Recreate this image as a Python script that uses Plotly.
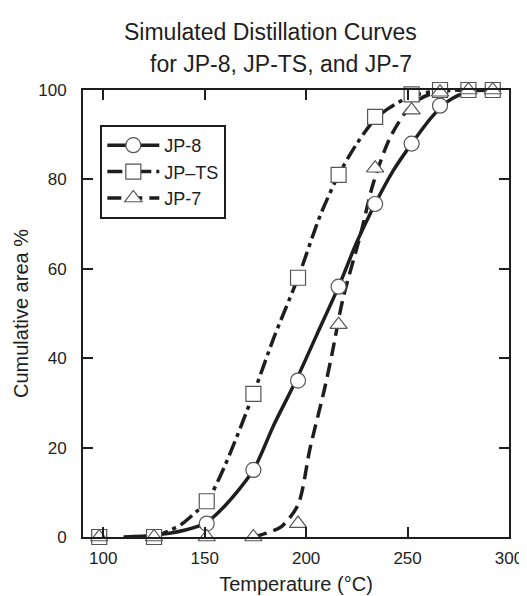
import plotly.graph_objects as go

# ---- measured data points (markers) ----
temps = [98, 125, 151, 174, 196, 216, 234, 252, 266, 280, 292]
jp8 = [0, 0, 3, 15, 35, 56, 74.5, 88, 96.5, 100, 100]
jpts = [0, 0, 8, 32, 58, 81, 94, 99, 100, 100, 100]
jp7 = [0, 0, 0, 0, 3, 47.5, 82.5, 95.5, 99.5, 100, 100]

# ---- fitted curves ----
jp8_curve_t = [110, 125, 140, 150, 160, 174, 184, 195, 205, 216, 225, 234, 243, 252, 262, 270, 280, 292]
jp8_curve_v = [0, 0.4, 1.5, 3, 7, 15, 25, 35, 45, 56, 66, 74.5, 82, 88, 94, 97.5, 99.6, 100]

jpts_curve_t = [125, 133, 139, 146, 151, 160, 174, 184, 196, 207, 216, 225, 234, 241, 251, 262, 275, 292]
jpts_curve_v = [0, 1.5, 3, 5.7, 7.8, 16, 32, 44.5, 58, 72, 81, 88, 93.5, 96, 98.5, 99.6, 100, 100]

jp7_curve_t = [174, 180, 188, 196, 202, 209, 213, 218, 227, 233, 241, 249, 256, 265, 280, 292]
jp7_curve_v = [0, 0.8, 2.4, 7.2, 20, 33, 41.5, 53, 68, 79, 89, 95, 98, 99.6, 100, 100]

names = ["JP-8", "JP\u2013TS", "JP-7"]
x_ticks = [100, 150, 200, 250, 300]
title_line1 = "Simulated Distillation Curves"
title_line2 = "for JP-8, JP-TS, and JP-7"

INK = "#1e1e1e"
FONT = "Liberation Sans, Arial, sans-serif"
LW = 3.5
dashes = ["solid", "15px,5px,4px,5px", "14px,7px"]
symbols = ["circle", "square", "triangle-up"]
marker_style = dict(size=15, color="white", line=dict(color="#555555", width=1.2))

fig = go.Figure()

curves = [(jp8_curve_t, jp8_curve_v), (jpts_curve_t, jpts_curve_v), (jp7_curve_t, jp7_curve_v)]
points = [jp8, jpts, jp7]

# curves
for (ct, cv), d in zip(curves, dashes):
    fig.add_trace(go.Scatter(x=ct, y=cv, mode="lines", showlegend=False,
                             line=dict(color=INK, width=LW, dash=d, shape="spline", smoothing=0.8),
                             hoverinfo="skip"))

# markers on top
for pv, s in zip(points, symbols):
    fig.add_trace(go.Scatter(x=temps, y=pv, mode="markers", showlegend=False,
                             marker=dict(symbol=s, **marker_style), cliponaxis=False))

# legend entries
for n, d, s in zip(names, dashes, symbols):
    fig.add_trace(go.Scatter(x=[None], y=[None], mode="lines+markers", name=n,
                             line=dict(color=INK, width=LW, dash=d),
                             marker=dict(symbol=s, **marker_style)))

plot_l, plot_r, plot_t, plot_b = 75.4, 508, 82, 529
pw, ph = plot_r - plot_l, plot_b - plot_t

def px_to_paper(x, y):
    return (x - plot_l) / pw, (plot_b - y) / ph

ax1, ay1 = px_to_paper(265.5, 24)
ax2, ay2 = px_to_paper(276, 56)

fig.add_annotation(text=title_line1, x=ax1, y=ay1, xref="paper", yref="paper",
                   xanchor="center", yanchor="middle", showarrow=False,
                   font=dict(size=23, color=INK, family=FONT))
fig.add_annotation(text=title_line2, x=ax2, y=ay2, xref="paper", yref="paper",
                   xanchor="center", yanchor="middle", showarrow=False,
                   font=dict(size=23, color=INK, family=FONT))

axis_common = dict(showline=True, linewidth=2, linecolor=INK, mirror="ticks",
                   ticks="inside", ticklen=10, tickwidth=2, tickcolor=INK,
                   showgrid=False, zeroline=False,
                   tickfont=dict(size=17, color=INK, family=FONT))

lx, ly = px_to_paper(93, 117)

fig.update_layout(
    width=527, height=596,
    margin=dict(l=plot_l, r=527 - plot_r, t=plot_t, b=596 - plot_b),
    paper_bgcolor="white", plot_bgcolor="white",
    font=dict(family=FONT, color=INK),
    xaxis=dict(range=[90, 300], tickvals=x_ticks, ticklabelstandoff=5,
               title=dict(text="Temperature (\u00b0C)", font=dict(size=20, color=INK, family=FONT), standoff=10),
               **axis_common),
    yaxis=dict(range=[0, 100], dtick=20, ticklabelstandoff=11,
               title=dict(text="Cumulative area %", font=dict(size=20, color=INK, family=FONT), standoff=4),
               **axis_common),
    legend=dict(x=lx, y=ly, xanchor="left", yanchor="top",
                bordercolor=INK, borderwidth=2, bgcolor="white",
                font=dict(size=18, color=INK, family=FONT), itemwidth=52,
                tracegroupgap=0),
    showlegend=True,
)

fig.write_html("out.html")
